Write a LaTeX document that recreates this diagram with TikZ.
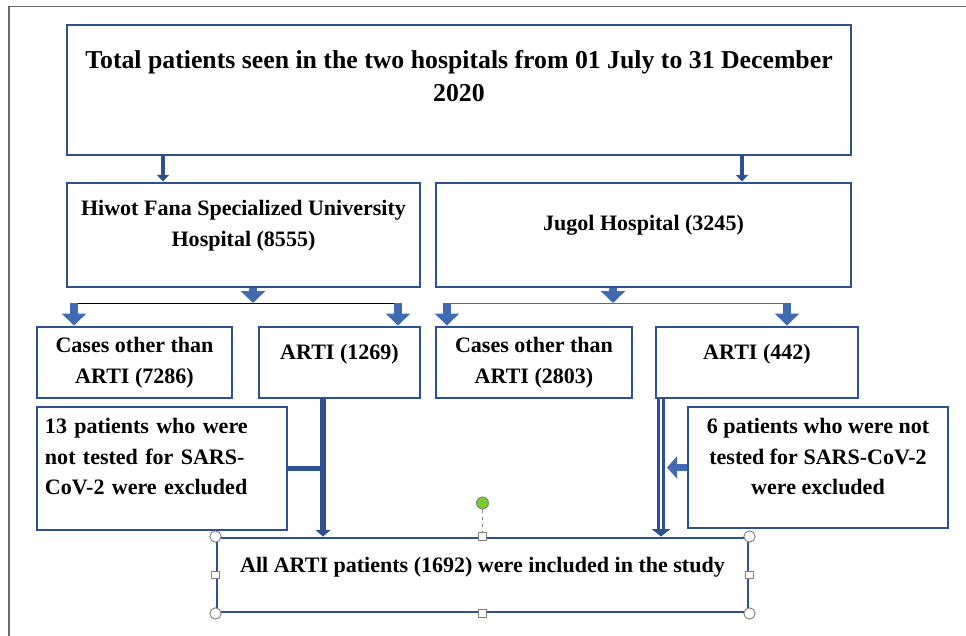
\documentclass[tikz,border=0pt]{standalone}
\usepackage{fontspec}
\setmainfont{Liberation Serif}
\usetikzlibrary{arrows.meta, calc}
\definecolor{flowblue}{RGB}{45, 80, 143}
\definecolor{arrowblue}{RGB}{64, 106, 178}
\definecolor{framegray}{RGB}{105, 105, 105}
\definecolor{handlegreen}{RGB}{120, 205, 45}
\tikzstyle{box} = [draw=flowblue, line width=2.5pt, fill=white, rectangle, align=center, inner sep=2pt, font=\fontsize{18.8}{26}\selectfont\bfseries]
\tikzstyle{bigarrow} = [flowblue, line width=3.7pt, -{Triangle[width=0.36cm, length=0.2cm]}]
\tikzstyle{splitarrow} = [arrowblue, line width=7.5pt, -{Triangle[width=0.72cm, length=0.36cm]}]
\tikzstyle{downline} = [flowblue, line width=5.5pt, -{Triangle[width=0.45cm, length=0.2cm]}]
\tikzstyle{dline} = [flowblue, line width=2pt, double=white, double distance=2.5pt, -{Triangle[width=0.54cm, length=0.22cm]}]
\tikzstyle{fatarrow} = [arrowblue, line width=6.8pt, -{Triangle[width=0.66cm, length=0.3cm]}]
\tikzstyle{handle} = [draw=gray, line width=0.8pt, fill=white]

\begin{document}
\begin{tikzpicture}[x=0.03cm, y=-0.03cm]
\useasboundingbox (0,0) rectangle (966,636);
\draw[framegray, line width=1.5pt] (966,6.5) -- (9,6.5) -- (9,636);

% Boxes
\node[box, minimum width=23.52cm, minimum height=3.9cm, text depth=0.84cm, font=\fontsize{22}{28}\selectfont\bfseries] (total) at (459,90) {Total patients seen in the two hospitals from 01 July to 31 December\\2020};

\node[box, minimum width=10.59cm, minimum height=3.12cm, text depth=0.7cm] (hiwot) at (243.5,235) {Hiwot Fana Specialized University\\Hospital (8555)};
\node[box, minimum width=12.45cm, minimum height=3.12cm, text depth=0.7cm] (jugol) at (643.5,235) {Jugol Hospital (3245)};

\node[box, minimum width=5.85cm, minimum height=2.13cm] (otherH) at (134.5,362.5) {Cases other than\\ARTI (7286)};
\node[box, minimum width=4.83cm, minimum height=2.13cm, text depth=0.62cm] (artiH) at (339.5,362.5) {ARTI (1269)};
\node[box, minimum width=5.88cm, minimum height=2.13cm] (otherJ) at (534,362.5) {Cases other than\\ARTI (2803)};
\node[box, minimum width=6.06cm, minimum height=2.13cm, text depth=0.62cm] (artiJ) at (757,362.5) {ARTI (442)};

\node[box, align=left, inner xsep=0.24cm, text width=7.02cm, minimum width=7.5cm, minimum height=3.69cm, text depth=2.54cm] (exclH) at (162,468.5) {13 patients who were\\not tested for SARS-\\CoV-2 were excluded};
\node[box, minimum width=7.8cm, minimum height=3.63cm, text depth=0.65cm] (exclJ) at (818,467.5) {6 patients who were not\\tested for SARS-CoV-2\\were excluded};

\node[box, minimum width=15.93cm, minimum height=2.22cm, text depth=0.62cm] (study) at (482.5,575) {All ARTI patients (1692) were included in the study};

% Arrows from the top box
\coordinate (hx) at (163,0);
\coordinate (jx) at (742,0);
\draw[bigarrow] (total.south -| hx) -- (hiwot.north -| hx);
\draw[bigarrow] (total.south -| jx) -- (jugol.north -| jx);

% Split under each hospital
\coordinate (hsplit) at (253,303);
\coordinate (hleft) at (74,303);
\coordinate (hright) at (398,303);
\draw[black, line width=0.8pt] (hleft) -- (hright);
\draw[splitarrow] (hiwot.south -| hsplit) -- (hsplit);
\draw[splitarrow] (hleft) -- (otherH.north -| hleft);
\draw[splitarrow] (hright) -- (artiH.north -| hright);

\coordinate (jsplit) at (613,303);
\coordinate (jleft) at (447,303);
\coordinate (jright) at (787,303);
\draw[arrowblue, line width=0.8pt] (jleft) -- (jright);
\draw[splitarrow] (jugol.south -| jsplit) -- (jsplit);
\draw[splitarrow] (jleft) -- (otherJ.north -| jleft);
\draw[splitarrow] (jright) -- (artiJ.north -| jright);

% ARTI to the study
\coordinate (hdown) at (323,0);
\draw[downline] (artiH.south -| hdown) -- (study.north -| hdown);
\draw[flowblue, line width=5pt] (exclH.east) -- (exclH.east -| hdown);

\coordinate (jdown) at (661,0);
\coordinate (jtip) at (667,0);
\draw[dline] (artiJ.south -| jdown) -- (study.north -| jdown);
\draw[fatarrow] (exclJ.west) -- (exclJ.west -| jtip);

% Selection handles
\node[circle, draw=gray, line width=0.8pt, fill=handlegreen, minimum size=0.36cm, inner sep=0pt] (rot) at (482.5,503) {};
\draw[gray, dashed, line width=0.8pt] (rot) -- (study.north);
\foreach \a in {north west, north east, south west, south east}
  \draw[handle] (study.\a) circle[radius=0.17cm];
\foreach \a in {north, south, east, west}
  \node[handle, rectangle, minimum size=0.22cm, inner sep=0pt] (sq\a) at (study.\a) {};
\end{tikzpicture}
\end{document}
